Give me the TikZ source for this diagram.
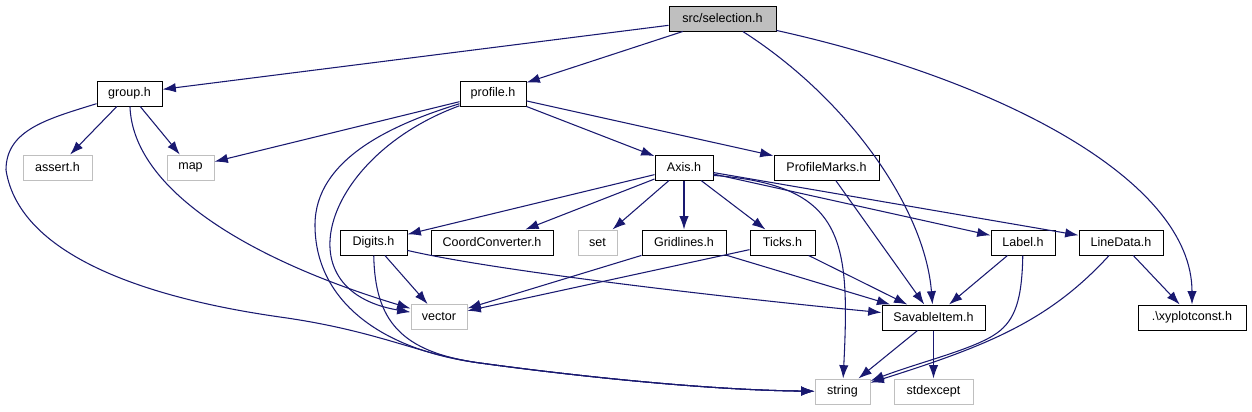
\documentclass[tikz,border=0pt]{standalone}
\usepackage{fontspec}
\setmainfont{Liberation Sans}
\usetikzlibrary{arrows.meta}
\definecolor{edgeblue}{RGB}{25,25,112}
\definecolor{sysgray}{RGB}{191,191,191}

\begin{document}
\begin{tikzpicture}[
  >={Latex[length=10pt,width=7pt]},
  x=0.75pt,
  y=-0.75pt,
  every node/.style={font=\fontsize{9.4}{11}\selectfont, inner sep=0pt, minimum height=18.75pt},
  file/.style={
    draw=black,
    line width=0.75pt,
    fill=white
  },
  sysfile/.style={
    draw=sysgray,
    line width=0.75pt,
    fill=white
  },
  root/.style={
    draw=black,
    line width=0.75pt,
    fill=sysgray
  },
  dep/.style={->, color=edgeblue, line width=0.8pt}
]
\useasboundingbox (0,0) rectangle (1252,411);

\node[root, minimum width=80.25pt] (sel) at (722.5,18.5) {src/selection.h};
\node[file, minimum width=48.75pt] (group) at (129.5,93.5) {group.h};
\node[file, minimum width=49.5pt] (profile) at (493,93.5) {profile.h};
\node[sysfile, minimum width=51.75pt] (assert) at (57.5,167.5) {assert.h};
\node[sysfile, minimum width=35.25pt] (map) at (190.5,167.5) {map};
\node[file, minimum width=43.5pt] (axis) at (684,167.5) {Axis.h};
\node[file, minimum width=78.75pt] (marks) at (826.5,167.5) {ProfileMarks.h};
\node[file, minimum width=50.25pt] (digits) at (373.5,242.5) {Digits.h};
\node[file, minimum width=91.5pt] (coord) at (492,242.5) {CoordConverter.h};
\node[sysfile, minimum width=29.25pt] (set) at (597.5,242.5) {set};
\node[file, minimum width=63pt] (grid) at (684,242.5) {Gridlines.h};
\node[file, minimum width=48.75pt] (ticks) at (782.5,242.5) {Ticks.h};
\node[file, minimum width=48pt] (label) at (1023,242.5) {Label.h};
\node[file, minimum width=63pt] (linedata) at (1121,242.5) {LineData.h};
\node[sysfile, minimum width=42pt] (vector) at (439,317) {vector};
\node[file, minimum width=77.25pt] (savable) at (933.5,317.5) {SavableItem.h};
\node[file, minimum width=81pt] (xyconst) at (1192,317.5) {.\textbackslash xyplotconst.h};
\node[sysfile, minimum width=41.25pt] (string) at (842.5,391.5) {string};
\node[sysfile, minimum width=59.25pt] (stdexcept) at (933.5,391.5) {stdexcept};

\draw[dep] (sel) -- (group);
\draw[dep] (sel) -- (profile);
\draw[dep] (sel) .. controls (850,100) and (925,210) .. (savable);
\draw[dep] (sel) .. controls (1000,80) and (1192,180) .. (xyconst);

\draw[dep] (group) -- (assert);
\draw[dep] (group) -- (map);
\draw[dep] (group) .. controls (133,190) and (250,260) .. (vector);
\draw[dep] (group) .. controls (47,119) and (6,130) .. (6,170)
  .. controls (20,260) and (160,300) .. (280,317)
  .. controls (380,331) and (420,355) .. (480,363)
  .. controls (560,374) and (700,390) .. (string);

\draw[dep] (profile) -- (map);
\draw[dep] (profile) .. controls (325,155) and (280,290) .. (vector);
\draw[dep] (profile) .. controls (390,125) and (315,160) .. (315,225)
  .. controls (315,300) and (380,350) .. (480,363)
  .. controls (560,374) and (700,390) .. (string);
\draw[dep] (profile) -- (axis);
\draw[dep] (profile) -- (marks);

\draw[dep] (axis) -- (digits);
\draw[dep] (axis) -- (coord);
\draw[dep] (axis) -- (set);
\draw[dep] (axis) -- (grid);
\draw[dep] (axis) -- (ticks);
\draw[dep] (axis.-15) .. controls (845,185) and (850,240) .. (string);
\draw[dep] (axis) -- (label);
\draw[dep] (axis) -- (linedata);

\draw[dep] (marks) -- (savable);

\draw[dep] (digits) -- (vector);
\draw[dep] (digits) .. controls (375,320) and (400,352) .. (480,363)
  .. controls (560,374) and (700,390) .. (string);
\draw[dep] (digits) .. controls (500,272) and (750,300) .. (savable);

\draw[dep] (grid) -- (vector);
\draw[dep] (grid) -- (savable);
\draw[dep] (ticks) -- (vector);
\draw[dep] (ticks) -- (savable);

\draw[dep] (label) -- (savable);
\draw[dep] (label) .. controls (1022,300) and (1015,320) .. (997,333)
  .. controls (975,349) and (920,362) .. (string);
\draw[dep] (linedata) .. controls (1050,320) and (990,345) .. (string);
\draw[dep] (linedata) -- (xyconst);

\draw[dep] (savable) -- (string);
\draw[dep] (savable) -- (stdexcept);
\end{tikzpicture}
\end{document}
